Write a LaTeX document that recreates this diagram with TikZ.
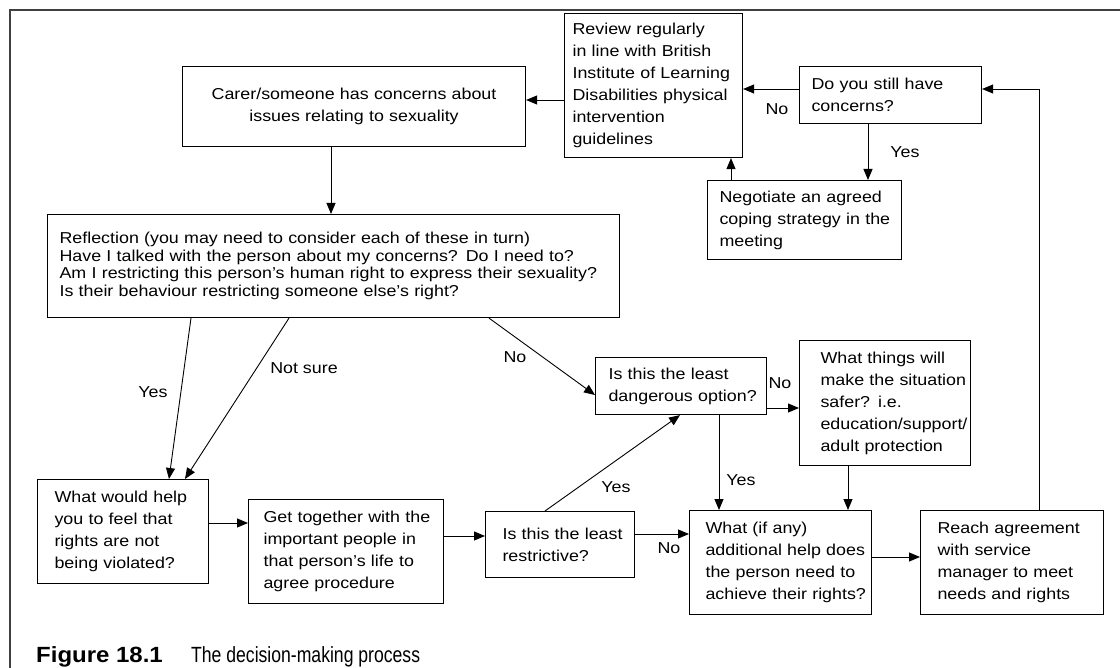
\documentclass[tikz,border=0pt]{standalone}
\usepackage{fontspec}
\setmainfont[FakeStretch=1.13]{Liberation Sans}
\newfontfamily\capregular[FakeStretch=0.8]{Liberation Sans}
\newfontfamily\capbold[FakeStretch=1.09]{Liberation Sans Bold}
\usetikzlibrary{arrows.meta}

\begin{document}
\begin{tikzpicture}[x=1pt,y=-1pt,
  bodyfont/.style={font=\fontsize{15.8}{22}\selectfont},
  box/.style={draw, line width=1.1pt, anchor=north west, inner xsep=0pt,
    inner ysep=2pt, align=left, bodyfont},
  pad/.style={execute at begin node={\leftskip=#1\relax
    \rightskip=-15pt plus 1fil\relax\hyphenpenalty=10000\relax}},
  arr/.style={line width=0.9pt, -{Triangle[length=11pt,width=9pt]}},
  lbl/.style={bodyfont, inner sep=0pt},
  frame/.style={line width=1.3pt, black!75},
]
\useasboundingbox (0,0) rectangle (1120,668);

% open frame: left and top edges only
\draw[frame] (10,668) -- (10,10) -- (1120,10);

% boxes
\node[box, align=center, text width=343pt, minimum height=80pt] (carer) at (182,66)
  {Carer/someone has concerns about\\issues relating to sexuality};
\node[box, pad=8pt, text width=178pt, minimum height=144pt] (review) at (564,13)
  {Review regularly\\in line with British\\Institute of Learning\\Disabilities physical\\intervention\\guidelines};
\node[box, pad=12pt, text width=182pt, minimum height=57pt] (doyou) at (799,66)
  {Do you still have\\concerns?};
\node[box, pad=12pt, text width=194pt, minimum height=79pt] (neg) at (707,180)
  {Negotiate an agreed\\coping strategy in the\\meeting};
\node[box, pad=12pt, text width=572pt, minimum height=103pt,
      font=\fontsize{15.8}{17.5}\selectfont] (refl) at (47,214)
  {Reflection (you may need to consider each of these in turn)\\Have I talked with the person about my concerns? Do I need to?\\Am I restricting this person’s human right to express their sexuality?\\Is their behaviour restricting someone else’s right?\par\vspace*{8pt}};
\node[box, pad=13pt, text width=171pt, minimum height=57pt] (dang) at (595,357)
  {Is this the least\\dangerous option?};
\node[box, pad=21pt, text width=171pt, minimum height=125pt] (safer) at (799,340)
  {What things will\\make the situation\\safer? i.e.\\education/support/\\adult protection};
\node[box, pad=17pt, text width=171pt, minimum height=104pt] (help) at (37,479)
  {What would help\\you to feel that\\rights are not\\being violated?};
\node[box, pad=15pt, text width=195pt, minimum height=104pt] (get) at (248,499)
  {Get together with the\\important people in\\that person’s life to\\agree procedure};
\node[box, pad=17pt, text width=149pt, minimum height=66pt] (restr) at (485,511)
  {Is this the least\\restrictive?};
\node[box, pad=16pt, text width=182pt, minimum height=104pt] (whatif) at (689,510)
  {What (if any)\\additional help does\\the person need to\\achieve their rights?};
\node[box, pad=17pt, text width=183pt, minimum height=104pt] (reach) at (920,510)
  {Reach agreement\\with service\\manager to meet\\needs and rights};

% connectors
\draw[arr] (carer.south -| 331,0) -- (refl.north -| 331,0);
\draw[arr] (review.west |- 0,100) -- (carer.east |- 0,100);
\draw[arr] (doyou.west |- 0,89) -- (review.east |- 0,89);
\draw[arr] (doyou.south -| 868,0) -- (neg.north -| 868,0);
\draw[arr] (neg.north -| 731,0) -- (review.south -| 731,0);
\draw[arr] (reach.north -| 1039,0) |- (doyou.east |- 0,89);
\draw[arr] (refl.south -| 191,0) -- (help.north -| 169,0);
\draw[arr] (refl.south -| 289,0) -- (help.north -| 185,0);
\draw[arr] (refl.south -| 489,0) -- (dang.west |- 0,395);
\draw[arr] (help.east |- 0,523) -- (get.west |- 0,523);
\draw[arr] (get.east |- 0,536) -- (restr.west |- 0,536);
\draw[arr] (restr.north -| 545,0) -- (dang.south -| 680,0);
\draw[arr] (restr.east |- 0,534) -- (whatif.west |- 0,534);
\draw[arr] (dang.east |- 0,408) -- (safer.west |- 0,408);
\draw[arr] (dang.south -| 719,0) -- (whatif.north -| 719,0);
\draw[arr] (safer.south -| 848,0) -- (whatif.north -| 848,0);
\draw[arr] (whatif.east |- 0,557) -- (reach.west |- 0,557);

% connector labels
\node[lbl] (lno1) at (777,109) {No};
\node[lbl] (lyes1) at (905,152) {Yes};
\node[lbl] (lyes2) at (153,392) {Yes};
\node[lbl] (lnotsure) at (304,368) {Not sure};
\node[lbl] (lno2) at (515,357) {No};
\node[lbl] (lyes3) at (616,487) {Yes};
\node[lbl] (lno3) at (669,548) {No};
\node[lbl] (lno4) at (780,383) {No};
\node[lbl] (lyes4) at (741,480) {Yes};

% caption
\node[anchor=base west, inner sep=0pt, font=\fontsize{22}{26}\capbold] (capnum) at (36,662) {Figure 18.1};
\node[anchor=base west, inner sep=0pt, font=\fontsize{22}{26}\capregular] (captext) at (191,662) {The decision-making process};
\end{tikzpicture}
\end{document}
